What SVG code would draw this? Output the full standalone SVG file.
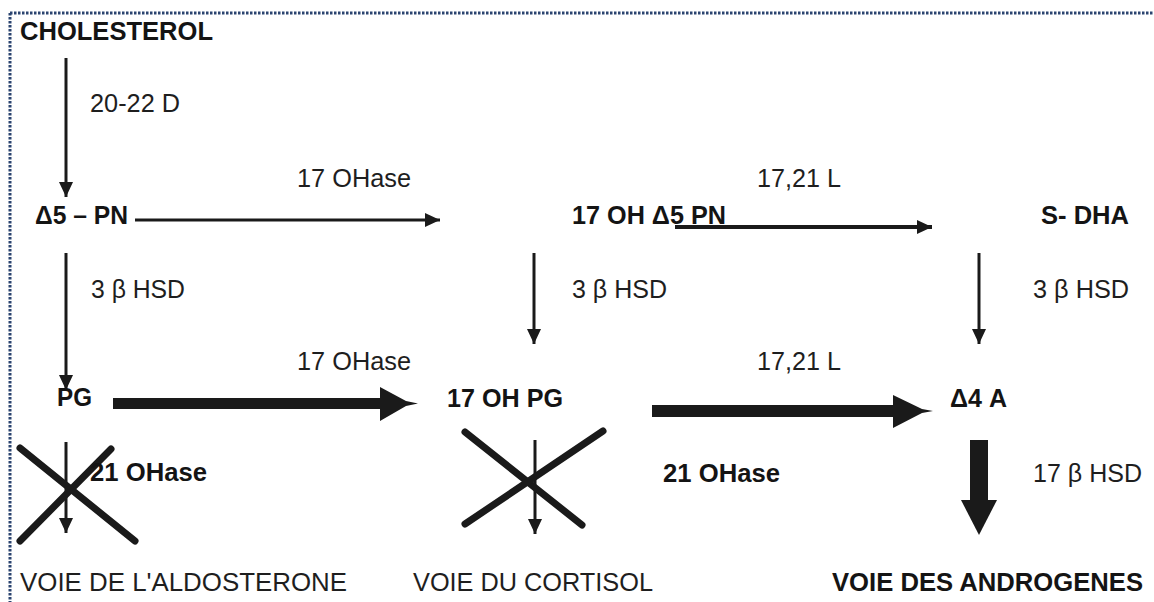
<svg xmlns="http://www.w3.org/2000/svg" width="1154" height="602" viewBox="0 0 1154 602">
<defs>
<style>
text{font-family:"Liberation Sans",Arial,sans-serif;font-size:25px;fill:#1e1e1e}
.b{font-weight:bold;fill:#141414}
.thin{stroke:#1a1a1a;stroke-width:3;fill:none}
.cross{stroke:#1a1a1a;stroke-width:7;stroke-linecap:round;fill:none}
.border{stroke:#2b4470;stroke-width:3;stroke-dasharray:2.5 1.5;fill:none}
.fill{fill:#1a1a1a}
</style>
<marker id="ah" markerUnits="userSpaceOnUse" markerWidth="16" markerHeight="14" refX="15" refY="7" orient="auto">
<path d="M0,0 L15,7 L0,14 z" fill="#1a1a1a"/>
</marker>
</defs>
<rect width="1154" height="602" fill="#ffffff"/>
<line class="border" x1="10" y1="13" x2="1154" y2="13"/>
<line class="border" x1="10" y1="13" x2="10" y2="602"/>

<g id="connectors">
<line class="thin" x1="66" y1="58" x2="66" y2="197" marker-end="url(#ah)"/>
<line class="thin" x1="135" y1="220" x2="440" y2="220" marker-end="url(#ah)"/>
<line class="thin" x1="675" y1="227" x2="932" y2="227" style="stroke-width:4" marker-end="url(#ah)"/>
<line class="thin" x1="66" y1="253" x2="66" y2="390" marker-end="url(#ah)"/>
<line class="thin" x1="534" y1="253" x2="534" y2="344" marker-end="url(#ah)"/>
<line class="thin" x1="979" y1="253" x2="979" y2="344" marker-end="url(#ah)"/>
<rect class="fill" x="113" y="398" width="269" height="11"/>
<polygon class="fill" points="380,387 406,401 418,403.5 406,406 380,421"/>
<rect class="fill" x="652" y="405" width="243" height="12"/>
<polygon class="fill" points="893,395 922,409 933,411 922,413 893,428"/>
<rect class="fill" x="970" y="440" width="18" height="62"/>
<polygon class="fill" points="961,500 997,500 979,535"/>
<line class="thin" x1="66" y1="442" x2="66" y2="533" marker-end="url(#ah)"/>
<line class="thin" x1="535" y1="440" x2="535" y2="534" marker-end="url(#ah)"/>
</g>

<g id="block-aldo">
<line class="cross" x1="20" y1="448" x2="135" y2="541"/>
<line class="cross" x1="20" y1="541" x2="111" y2="449"/>
</g>
<g id="block-cortisol">
<line class="cross" x1="465" y1="432" x2="582" y2="525"/>
<line class="cross" x1="465" y1="524" x2="603" y2="431"/>
</g>

<g id="node-cholesterol"><text class="b" x="20" y="40" textLength="193" lengthAdjust="spacingAndGlyphs">CHOLESTEROL</text></g>
<g id="label-2022"><text x="90" y="112" textLength="90" lengthAdjust="spacingAndGlyphs">20-22 D</text></g>
<g id="label-17ohase-top"><text x="297" y="187" textLength="114" lengthAdjust="spacingAndGlyphs">17 OHase</text></g>
<g id="label-1721-top"><text x="757" y="187" textLength="84" lengthAdjust="spacingAndGlyphs">17,21 L</text></g>
<g id="node-d5pn"><text class="b" x="35" y="224" textLength="93" lengthAdjust="spacingAndGlyphs">Δ5 – PN</text></g>
<g id="node-17ohd5pn"><text class="b" x="572" y="224" textLength="154" lengthAdjust="spacingAndGlyphs">17 OH Δ5 PN</text></g>
<g id="node-sdha"><text class="b" x="1041" y="224" textLength="88" lengthAdjust="spacingAndGlyphs">S- DHA</text></g>
<g id="labels-3bhsd">
<text x="91" y="298" textLength="94" lengthAdjust="spacingAndGlyphs">3 β HSD</text>
<text x="572" y="298" textLength="95" lengthAdjust="spacingAndGlyphs">3 β HSD</text>
<text x="1033" y="298" textLength="96" lengthAdjust="spacingAndGlyphs">3 β HSD</text>
</g>
<g id="label-17ohase-mid"><text x="297" y="370" textLength="114" lengthAdjust="spacingAndGlyphs">17 OHase</text></g>
<g id="label-1721-mid"><text x="757" y="370" textLength="84" lengthAdjust="spacingAndGlyphs">17,21 L</text></g>
<g id="node-pg"><text class="b" x="57" y="406" textLength="35" lengthAdjust="spacingAndGlyphs">PG</text></g>
<g id="node-17ohpg"><text class="b" x="447" y="407" textLength="116" lengthAdjust="spacingAndGlyphs">17 OH PG</text></g>
<g id="node-d4a"><text class="b" x="950" y="407" textLength="57" lengthAdjust="spacingAndGlyphs">Δ4 A</text></g>
<g id="label-21ohase-left"><text class="b" x="90" y="481" textLength="117" lengthAdjust="spacingAndGlyphs">21 OHase</text></g>
<g id="label-21ohase-mid"><text class="b" x="663" y="482" textLength="117" lengthAdjust="spacingAndGlyphs">21 OHase</text></g>
<g id="label-17bhsd"><text x="1033" y="482" textLength="109" lengthAdjust="spacingAndGlyphs">17 β HSD</text></g>
<g id="node-aldo"><text x="20" y="591" textLength="327" lengthAdjust="spacingAndGlyphs">VOIE DE L'ALDOSTERONE</text></g>
<g id="node-cortisol"><text x="413" y="591" textLength="240" lengthAdjust="spacingAndGlyphs">VOIE DU CORTISOL</text></g>
<g id="node-androgenes"><text class="b" x="832" y="591" textLength="311" lengthAdjust="spacingAndGlyphs">VOIE DES ANDROGENES</text></g>
</svg>
